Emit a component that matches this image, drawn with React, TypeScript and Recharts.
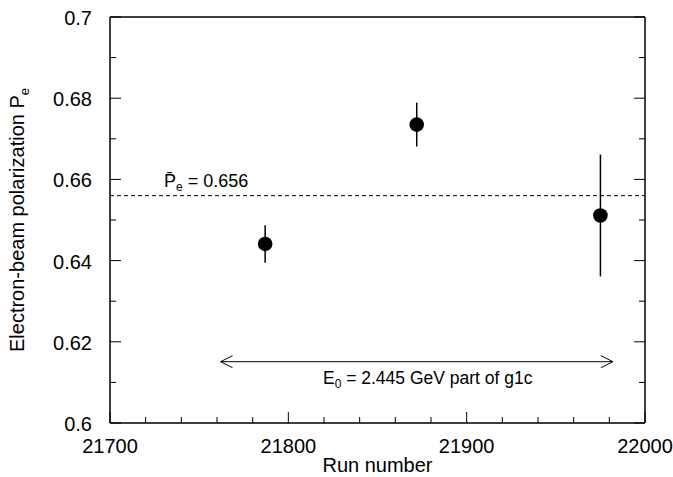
import React from "react";
import {
  ScatterChart,
  Scatter,
  XAxis,
  YAxis,
  ErrorBar,
  ReferenceLine,
} from "recharts";

// measured runs
const runNumbers = [21787, 21872, 21975];
const polarization = [0.6441, 0.6735, 0.6511];
const polErrors = [0.0046, 0.0054, 0.015];

const meanPolarization = 0.656;
const arrowRuns = [21762, 21982];
const arrowLevel = 0.6151;

const xTicks = [
  21700, 21720, 21740, 21760, 21780, 21800, 21820, 21840, 21860, 21880, 21900,
  21920, 21940, 21960, 21980, 22000,
];
const xMajor = [21700, 21800, 21900, 22000];
const yTicks = [0.6, 0.61, 0.62, 0.63, 0.64, 0.65, 0.66, 0.67, 0.68, 0.69, 0.7];
const yMajor = [0.6, 0.62, 0.64, 0.66, 0.68, 0.7];

const data = runNumbers.map((run, i) => ({
  run,
  pol: polarization[i],
  err: polErrors[i],
}));

const FONT = "'Liberation Sans', Arial, sans-serif";

const BottomTick = (props: any) => {
  const { x, y, payload } = props;
  const major = xMajor.includes(payload.value);
  return (
    <g>
      <line x1={x} x2={x} y1={y} y2={y - (major ? 11 : 6)} stroke="#000" />
      {major && (
        <text x={x} y={y + 30} textAnchor="middle" fontSize={20} fontFamily={FONT} fill="#000">
          {payload.value}
        </text>
      )}
    </g>
  );
};

const TopTick = (props: any) => {
  const { x, y, payload } = props;
  const major = xMajor.includes(payload.value);
  return <line x1={x} x2={x} y1={y} y2={y + (major ? 11 : 6)} stroke="#000" />;
};

const LeftTick = (props: any) => {
  const { x, y, payload } = props;
  const major = yMajor.includes(payload.value);
  return (
    <g>
      <line x1={x} x2={x + (major ? 11 : 6)} y1={y} y2={y} stroke="#000" />
      {major && (
        <text x={x - 18} y={y + 8} textAnchor="end" fontSize={20} fontFamily={FONT} fill="#000">
          {String(payload.value)}
        </text>
      )}
    </g>
  );
};

const RightTick = (props: any) => {
  const { x, y, payload } = props;
  const major = yMajor.includes(payload.value);
  return <line x1={x} x2={x - (major ? 11 : 6)} y1={y} y2={y} stroke="#000" />;
};

const Dot = (props: any) => <circle cx={props.cx} cy={props.cy} r={7.3} fill="#000" />;

const Arrow = (props: any) => {
  const { x1, y1, x2, y2 } = props;
  const cx = (x1 + x2) / 2 + 11;
  return (
    <g>
      <line x1={x1} y1={y1} x2={x2} y2={y2} stroke="#000" strokeWidth={1} />
      <polyline points={`${x1 + 12},${y1 - 6} ${x1},${y1} ${x1 + 12},${y1 + 6}`} fill="none" stroke="#000" />
      <polyline points={`${x2 - 12},${y2 - 6} ${x2},${y2} ${x2 - 12},${y2 + 6}`} fill="none" stroke="#000" />
      <text x={cx} y={y1 + 22} textAnchor="middle" fontSize={17.5} fontFamily={FONT} fill="#000">
        E<tspan fontSize={12} dy={4}>0</tspan>
        <tspan dy={-4}> = 2.445 GeV part of g1c</tspan>
      </text>
    </g>
  );
};

export default function App() {
  return (
    <div style={{ position: "absolute", left: 0, top: 0, background: "#fff" }}>
      <ScatterChart width={673} height={477} margin={{ top: 0, right: 0, bottom: 0, left: 0 }}>
        <XAxis
          dataKey="run"
          type="number"
          domain={[21700, 22000]}
          ticks={xTicks}
          interval={0}
          height={54}
          tickSize={0}
          tickMargin={0}
          tickLine={false}
          tick={<BottomTick />}
          axisLine={{ stroke: "#000", strokeWidth: 1.5 }}
          allowDataOverflow
          label={{
            content: (p: any) => {
              const vb = p.viewBox;
              return (
                <text x={vb.x + vb.width / 2} y={vb.y + 49} textAnchor="middle" fontSize={20} fontFamily={FONT} fill="#000">
                  Run number
                </text>
              );
            },
          }}
        />
        <XAxis
          xAxisId="top"
          orientation="top"
          type="number"
          domain={[21700, 22000]}
          ticks={xTicks}
          interval={0}
          height={17}
          tickSize={0}
          tickMargin={0}
          tickLine={false}
          tick={<TopTick />}
          axisLine={{ stroke: "#000", strokeWidth: 1.5 }}
          allowDataOverflow
        />
        <YAxis
          dataKey="pol"
          type="number"
          domain={[0.6, 0.7]}
          ticks={yTicks}
          interval={0}
          width={110}
          tickSize={0}
          tickMargin={0}
          tickLine={false}
          tick={<LeftTick />}
          axisLine={{ stroke: "#000", strokeWidth: 1.5 }}
          allowDataOverflow
          label={{
            content: (p: any) => {
              const vb = p.viewBox;
              const cx = vb.x + 24;
              const cy = vb.y + vb.height / 2;
              return (
                <text
                  x={cx}
                  y={cy}
                  transform={`rotate(-90, ${cx}, ${cy})`}
                  textAnchor="middle"
                  fontSize={20}
                  fontFamily={FONT}
                  fill="#000"
                >
                  Electron-beam polarization P<tspan fontSize={13} dy={5}>e</tspan>
                </text>
              );
            },
          }}
        />
        <YAxis
          yAxisId="right"
          orientation="right"
          type="number"
          domain={[0.6, 0.7]}
          ticks={yTicks}
          interval={0}
          width={28}
          tickSize={0}
          tickMargin={0}
          tickLine={false}
          tick={<RightTick />}
          axisLine={{ stroke: "#000", strokeWidth: 1.5 }}
          allowDataOverflow
        />
        <ReferenceLine
          y={meanPolarization}
          stroke="#000"
          strokeDasharray="4 3"
          label={{
            content: (p: any) => {
              const vb = p.viewBox;
              return (
                <text x={vb.x + 54} y={vb.y - 9} fontSize={18} fontFamily={FONT} fill="#000">
                  {"P\u0304"}
                  <tspan fontSize={12} dy={4}>e</tspan>
                  <tspan dy={-4}> = 0.656</tspan>
                </text>
              );
            },
          }}
        />
        <ReferenceLine
          segment={[
            { x: arrowRuns[0], y: arrowLevel },
            { x: arrowRuns[1], y: arrowLevel },
          ]}
          shape={<Arrow />}
        />
        <Scatter data={data} shape={<Dot />} isAnimationActive={false}>
          <ErrorBar dataKey="err" direction="y" width={0} stroke="#000" strokeWidth={1.5} />
        </Scatter>
      </ScatterChart>
    </div>
  );
}
